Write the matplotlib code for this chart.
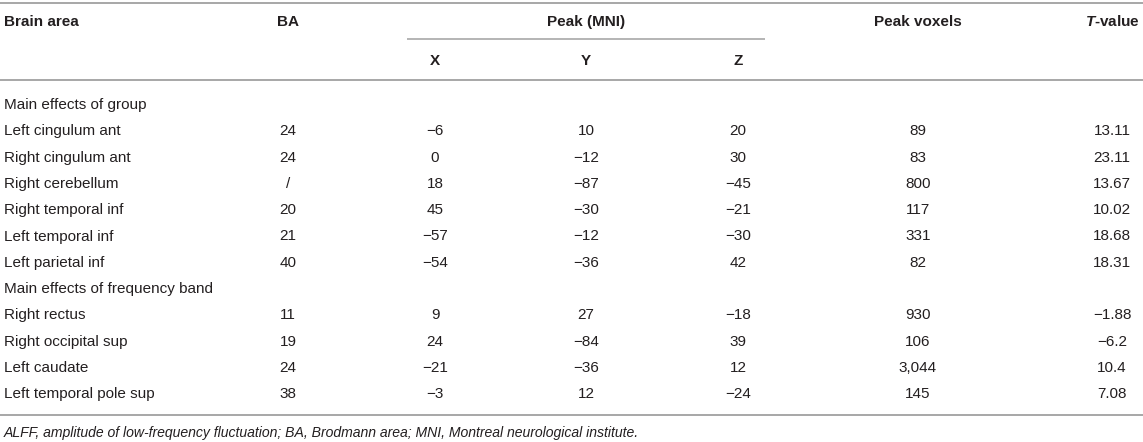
import matplotlib.pyplot as plt

# Table contents
columns = ['Brain area', 'BA', 'X', 'Y', 'Z', 'Peak voxels', 'T-value']
groups = ['Main effects of group', 'Main effects of frequency band']
areas = [
    ['Left cingulum ant', 'Right cingulum ant', 'Right cerebellum',
     'Right temporal inf', 'Left temporal inf', 'Left parietal inf'],
    ['Right rectus', 'Right occipital sup', 'Left caudate', 'Left temporal pole sup'],
]
ba = [['24', '24', '/', '20', '21', '40'], ['11', '19', '24', '38']]
peak_x = [['−6', '0', '18', '45', '−57', '−54'], ['9', '24', '−21', '−3']]
peak_y = [['10', '−12', '−87', '−30', '−12', '−36'], ['27', '−84', '−36', '12']]
peak_z = [['20', '30', '−45', '−21', '−30', '42'], ['−18', '39', '12', '−24']]
voxels = [['89', '83', '800', '117', '331', '82'], ['930', '106', '3,044', '145']]
tvalue = [['13.11', '23.11', '13.67', '10.02', '18.68', '18.31'],
          ['−1.88', '−6.2', '10.4', '7.08']]
footnote = ('ALFF, amplitude of low-frequency fluctuation; BA, Brodmann area; '
            'MNI, Montreal neurological institute.')

plt.rcParams['font.family'] = ['Liberation Sans', 'DejaVu Sans']
plt.rcParams['mathtext.fontset'] = 'custom'
plt.rcParams['mathtext.bfit'] = 'Liberation Sans:bold:italic'

W, H = 1143, 442
fig = plt.figure(figsize=(W / 100, H / 100), dpi=100)
ax = fig.add_axes([0, 0, 1, 1])
ax.set_xlim(0, W)
ax.set_ylim(H, 0)
ax.axis('off')

txt = '#231f20'
line_c = '#a0a0a0'
fs = 11.0

# column x positions (first column left aligned, others centred)
col_x = [3.5, 288, 435, 586, 738, 918, 1112]

# rules
for yy in (2.5, 80, 415):
    ax.plot([0, W], [yy, yy], color=line_c, lw=1.3, solid_capstyle='butt')
ax.plot([407, 765], [39, 39], color=line_c, lw=1.1, solid_capstyle='butt')

# header
hy = 22
ax.text(col_x[0], hy, 'Brain area', ha='left', va='center', fontsize=fs,
        weight='bold', color=txt)
ax.text(col_x[1], hy, 'BA', ha='center', va='center', fontsize=fs,
        weight='bold', color=txt)
ax.text(586, hy, 'Peak (MNI)', ha='center', va='center', fontsize=fs,
        weight='bold', color=txt)
ax.text(col_x[5], hy, 'Peak voxels', ha='center', va='center', fontsize=fs,
        weight='bold', color=txt)
ax.text(col_x[6], hy, r'$\bfit{T}$' + '-value', ha='center', va='center',
        fontsize=fs, weight='bold', color=txt)
for cx, lab in zip(col_x[2:5], columns[2:5]):
    ax.text(cx, 61, lab, ha='center', va='center', fontsize=fs,
            weight='bold', color=txt)

# body
y0, dy = 105, 26.3
row = 0
for g, group in enumerate(groups):
    ax.text(col_x[0], y0 + row * dy, group, ha='left', va='center',
            fontsize=fs, color=txt)
    row += 1
    for i, name in enumerate(areas[g]):
        yy = y0 + row * dy
        ax.text(col_x[0], yy, name, ha='left', va='center', fontsize=fs, color=txt)
        vals = [ba[g][i], peak_x[g][i], peak_y[g][i], peak_z[g][i],
                voxels[g][i], tvalue[g][i]]
        for cx, v in zip(col_x[1:], vals):
            ax.text(cx, yy, v, ha='center', va='center', fontsize=fs, color=txt)
        row += 1

ax.text(col_x[0], 433, footnote, ha='left', va='center', fontsize=10.1,
        style='italic', color=txt)

fig.savefig('out.png', dpi=100)
